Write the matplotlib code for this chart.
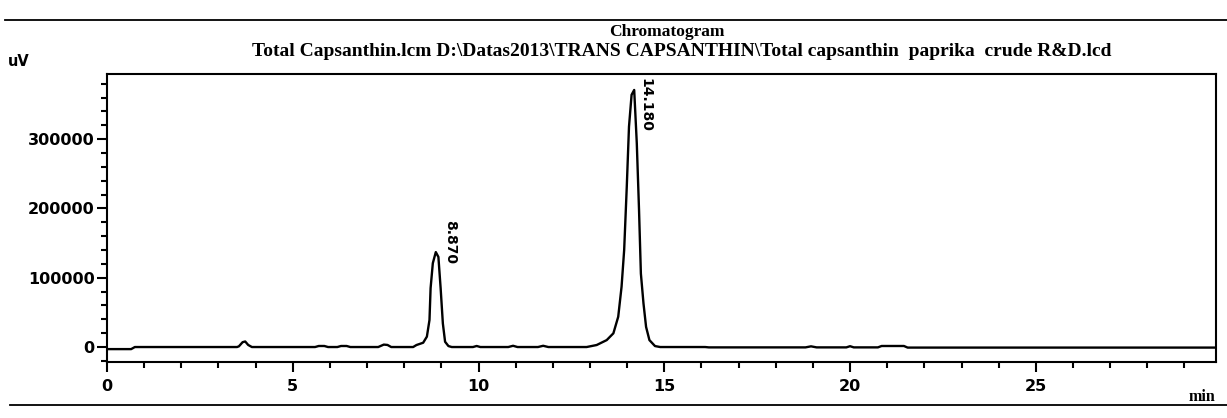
import matplotlib.pyplot as plt
import numpy as np
from matplotlib.ticker import MultipleLocator, FixedLocator

# trace (min, uV)
t_min = [0.0, 0.65, 0.75, 3.5, 3.55, 3.65, 3.72, 3.8, 3.9,
         5.6, 5.7, 5.85, 5.95, 6.2, 6.3, 6.45, 6.55,
         7.3, 7.45, 7.55, 7.65, 8.24, 8.33, 8.51, 8.61, 8.68, 8.71, 8.77,
         8.85, 8.92, 8.98, 9.04, 9.10, 9.19, 9.28,
         9.85, 9.95, 10.05, 10.8, 10.93, 11.05, 11.6, 11.74, 11.88,
         12.91, 13.18, 13.45, 13.63, 13.76, 13.85, 13.92, 13.99, 14.05,
         14.12, 14.19, 14.26, 14.32, 14.37, 14.44, 14.51, 14.60, 14.75, 14.89,
         16.1, 16.2, 18.8, 18.95, 19.1, 19.9, 20.0, 20.1, 20.75, 20.85,
         21.45, 21.55, 29.85]
signal = [-3000, -3000, 0, 0, 1000, 7000, 8000, 3000, 0,
          0, 1500, 1500, 0, 0, 1500, 1500, 0,
          0, 3500, 3000, 0, 0, 2900, 6200, 15000, 39000, 85000, 121000,
          137000, 130000, 85000, 34000, 7600, 1400, 0,
          0, 1500, 0, 0, 1800, 0, 0, 1800, 0,
          0, 2900, 10000, 19800, 43700, 87000, 140000, 231000, 318000,
          364000, 371000, 294000, 198000, 106000, 63000, 29000, 10000, 1400, 0,
          0, -500, -500, 1000, -500, -500, 1200, -500, -500, 1500,
          1500, -800, -800]

peak_lbl = ["8.870", "14.180"]
lbl_pos = [(9.23, 184000), (14.48, 388000)]

title = "Chromatogram"
subtitle = r"Total Capsanthin.lcm D:\Datas2013\TRANS CAPSANTHIN\Total capsanthin  paprika  crude R&D.lcd"

fig = plt.figure(figsize=(12.27, 4.18), dpi=100)
ax = fig.add_axes([107 / 1227, 1 - 362 / 418, (1216 - 107) / 1227, (362 - 74) / 418])

ax.plot(t_min, signal, color="black", lw=1.7)

ax.set_xlim(0, 29.85)
ax.set_ylim(-21600, 394000)

ax.xaxis.set_major_locator(MultipleLocator(5))
ax.xaxis.set_minor_locator(MultipleLocator(1))
ax.yaxis.set_major_locator(FixedLocator([0, 100000, 200000, 300000]))
ax.yaxis.set_minor_locator(MultipleLocator(20000))
ax.tick_params(which="major", direction="out", length=7, width=1.5)
ax.tick_params(which="minor", direction="out", length=4, width=1.5)
ax.tick_params(axis="x", pad=5)
ax.tick_params(axis="y", pad=2)
for lab in ax.get_xticklabels() + ax.get_yticklabels():
    lab.set_fontweight("bold")
    lab.set_fontsize(11.5)
    lab.set_family("DejaVu Sans")
for s in ax.spines.values():
    s.set_linewidth(1.5)

for (x, y), txt in zip(lbl_pos, peak_lbl):
    ax.text(x, y, txt, rotation=270, va="top", ha="center", fontsize=10,
            fontweight="bold", family=["Liberation Sans Narrow", "DejaVu Sans"])

fig.text(0.5435, 1 - 32 / 418, title, ha="center", va="center",
         fontsize=12.5, fontweight="bold", family="Liberation Serif")
fig.text(0.5555, 1 - 52 / 418, subtitle, ha="center", va="center",
         fontsize=14, fontweight="bold", family="Liberation Serif")
fig.text(8 / 1227, 1 - 62 / 418, "uV", ha="left", va="center",
         fontsize=10.5, fontweight="bold", family="DejaVu Sans")
fig.text(1215 / 1227, 1 - 397 / 418, "min", ha="right", va="center",
         fontsize=11.5, fontweight="bold", family="Liberation Serif")

fig.add_artist(plt.Line2D([5 / 1227, 1], [1 - 20 / 418] * 2, color="black", lw=1.3))
fig.add_artist(plt.Line2D([10 / 1227, 1], [1 - 405 / 418] * 2, color="black", lw=1.3))

fig.savefig("out.png", dpi=100)
